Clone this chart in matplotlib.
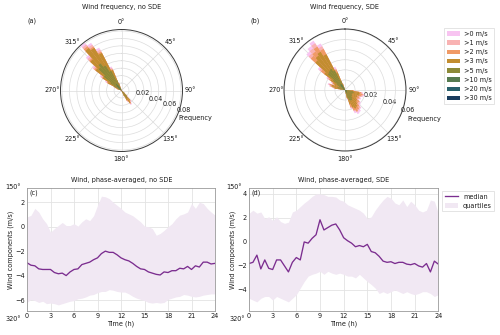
import numpy as np
import matplotlib
matplotlib.use('Agg')
import matplotlib.pyplot as plt
from matplotlib.patches import Patch
from matplotlib.lines import Line2D

plt.rcParams['font.family'] = ['DejaVu Sans']
FS = 9.4
TXT = '#1a1a1a'

# ---------------- wind-rose data ----------------
speed_labels = ['>0 m/s', '>1 m/s', '>2 m/s', '>3 m/s', '>5 m/s', '>10 m/s', '>20 m/s', '>30 m/s']
speed_colors = ['#f8c4f1', '#f9b3b3', '#f09a66', '#c28d30', '#8c8a38', '#567b50', '#28606a', '#1a3d5e']

dirs_a = [130, 135, 140, 145, 150, 155, 160, 290, 295, 300, 305, 310, 315, 320, 325, 330, 335, 340, 345]
freq_a_gt0 = [0.006, 0.012, 0.020, 0.023, 0.018, 0.010, 0.004, 0.008, 0.012, 0.025, 0.035, 0.050, 0.065, 0.081, 0.076, 0.065, 0.035, 0.012, 0.004]
freq_a_gt1 = [0.005, 0.011, 0.019, 0.022, 0.017, 0.009, 0.003, 0.007, 0.011, 0.023, 0.033, 0.048, 0.062, 0.078, 0.073, 0.062, 0.033, 0.011, 0.003]
freq_a_gt2 = [0.005, 0.010, 0.018, 0.021, 0.016, 0.008, 0.003, 0.006, 0.010, 0.022, 0.031, 0.046, 0.059, 0.075, 0.070, 0.059, 0.031, 0.010, 0.003]
freq_a_gt3 = [0.005, 0.010, 0.017, 0.020, 0.015, 0.008, 0.003, 0.006, 0.010, 0.021, 0.030, 0.044, 0.057, 0.072, 0.068, 0.057, 0.030, 0.010, 0.003]
freq_a_gt5 = [0.002, 0.006, 0.011, 0.013, 0.009, 0.004, 0.001, 0.002, 0.005, 0.012, 0.018, 0.030, 0.042, 0.046, 0.040, 0.030, 0.015, 0.004, 0.001]
freq_a_gt10 = [0.000, 0.001, 0.002, 0.003, 0.002, 0.001, 0.000, 0.000, 0.001, 0.002, 0.004, 0.006, 0.009, 0.011, 0.009, 0.006, 0.003, 0.001, 0.000]

dirs_b = [95, 100, 105, 110, 115, 120, 125, 130, 135, 140, 145, 150, 155, 160, 165,
          280, 285, 290, 295, 300, 305, 310, 315, 320, 325, 330, 335, 340]
freq_b_gt0 = [0.010, 0.018, 0.020, 0.019, 0.017, 0.018, 0.017, 0.020, 0.021, 0.024, 0.026, 0.027, 0.025, 0.020, 0.010,
              0.012, 0.016, 0.018, 0.014, 0.016, 0.022, 0.034, 0.052, 0.055, 0.058, 0.052, 0.025, 0.008]
freq_b_gt1 = [0.009, 0.017, 0.019, 0.018, 0.016, 0.017, 0.016, 0.019, 0.020, 0.023, 0.024, 0.025, 0.023, 0.019, 0.009,
              0.011, 0.015, 0.017, 0.013, 0.015, 0.021, 0.032, 0.049, 0.052, 0.055, 0.049, 0.023, 0.007]
freq_b_gt2 = [0.009, 0.016, 0.018, 0.017, 0.015, 0.016, 0.015, 0.018, 0.018, 0.021, 0.023, 0.024, 0.022, 0.018, 0.009,
              0.011, 0.014, 0.016, 0.012, 0.014, 0.019, 0.030, 0.046, 0.048, 0.051, 0.046, 0.022, 0.007]
freq_b_gt3 = [0.008, 0.014, 0.015, 0.015, 0.013, 0.014, 0.013, 0.015, 0.016, 0.018, 0.020, 0.021, 0.019, 0.015, 0.008,
              0.010, 0.013, 0.014, 0.011, 0.013, 0.017, 0.026, 0.040, 0.043, 0.045, 0.040, 0.019, 0.006]
freq_b_gt5 = [0.004, 0.008, 0.009, 0.009, 0.008, 0.008, 0.008, 0.009, 0.009, 0.011, 0.012, 0.012, 0.011, 0.009, 0.004,
              0.005, 0.007, 0.008, 0.006, 0.007, 0.010, 0.015, 0.023, 0.024, 0.025, 0.022, 0.010, 0.003]
freq_b_gt10 = [0.001, 0.002, 0.002, 0.002, 0.002, 0.002, 0.002, 0.002, 0.002, 0.003, 0.003, 0.003, 0.003, 0.002, 0.001,
               0.001, 0.002, 0.002, 0.001, 0.002, 0.002, 0.003, 0.006, 0.007, 0.007, 0.006, 0.003, 0.001]

# ---------------- phase-averaged wind data ----------------
hours = [0, 0.5, 1, 1.5, 2, 2.5, 3, 3.5, 4, 4.5, 5, 5.5, 6, 6.5, 7, 7.5, 8, 8.5, 9, 9.5, 10, 10.5, 11, 11.5,
         12, 12.5, 13, 13.5, 14, 14.5, 15, 15.5, 16, 16.5, 17, 17.5, 18, 18.5, 19, 19.5, 20, 20.5, 21, 21.5,
         22, 22.5, 23, 23.5, 24]
median_c = [-2.95, -3.15, -3.2, -3.45, -3.5, -3.5, -3.5, -3.75, -3.85, -3.8, -4.0, -3.7, -3.5, -3.45, -3.1, -3.0,
            -2.9, -2.7, -2.55, -2.2, -2.0, -2.1, -2.1, -2.3, -2.55, -2.7, -2.8, -3.0, -3.25, -3.45, -3.5, -3.7,
            -3.8, -3.9, -3.95, -3.7, -3.75, -3.6, -3.6, -3.4, -3.45, -3.25, -3.5, -3.2, -3.3, -2.9, -2.9, -3.05, -3.0]
upper_c = [0.8, 0.93, 1.5, 1.2, 0.65, 0.25, -0.45, -0.15, 0.1, 0.35, 0.1, 0.1, 0.25, 0.05, 0.4, 0.65,
           0.5, 0.9, 1.75, 2.5, 2.45, 2.3, 2.0, 1.75, 1.5, 1.2, 1.05, 0.9, 0.65, 0.4, 0.05, 0.0,
           -0.15, -0.7, -0.55, -0.3, 0.0, 0.25, 0.65, 0.95, 1.05, 1.2, 1.9, 1.5, 2.0, 1.9, 1.5, 1.2, 0.95]
lower_c = [-6.2, -5.95, -6.05, -6.2, -6.1, -6.3, -6.25, -6.3, -6.4, -6.3, -6.2, -6.1, -6.05, -5.9, -5.85, -5.75,
           -5.6, -5.55, -5.4, -5.3, -5.3, -5.15, -5.2, -5.3, -5.35, -5.35, -5.5, -5.7, -5.85, -5.95, -6.05, -6.2,
           -6.25, -6.2, -6.25, -6.2, -5.95, -5.85, -5.75, -5.7, -5.55, -5.6, -5.7, -5.75, -5.7, -5.6, -5.55, -5.5, -5.5]
median_d = [-1.8, -1.7, -1.1, -2.25, -1.5, -2.2, -2.3, -1.5, -1.5, -2.0, -2.5, -1.7, -1.3, -1.5, 0.0, -0.1,
            0.3, 0.6, 1.85, 1.0, 1.2, 1.4, 1.5, 1.0, 0.35, 0.1, -0.1, -0.4, -0.3, -0.4, -0.2, -0.8,
            -0.9, -1.2, -1.6, -1.7, -1.65, -1.8, -1.7, -1.7, -1.85, -1.9, -1.8, -2.0, -2.1, -1.8, -2.5, -1.6, -1.85]
upper_d = [2.38, 2.65, 2.4, 2.5, 1.95, 2.1, 1.8, 2.1, 1.7, 1.55, 1.65, 2.5, 2.65, 2.95, 3.25, 3.5,
           3.8, 4.0, 4.0, 3.95, 3.8, 3.8, 3.75, 3.5, 3.4, 3.1, 2.95, 2.8, 2.65, 2.4, 1.95, 2.1,
           2.65, 3.1, 3.5, 3.8, 3.65, 3.25, 3.1, 3.5, 2.95, 3.4, 3.1, 2.65, 2.5, 2.65, 3.5, 3.4, 2.4]
lower_d = [-4.7, -4.85, -5.0, -4.7, -4.55, -4.55, -4.85, -4.55, -4.7, -4.85, -5.0, -4.7, -4.4, -3.85, -3.3, -2.85,
           -2.7, -2.6, -2.45, -2.7, -2.45, -2.6, -2.7, -2.6, -2.7, -2.85, -2.85, -3.0, -2.7, -3.0, -3.3, -3.55,
           -3.85, -4.3, -4.15, -4.3, -4.15, -4.0, -4.15, -4.3, -4.15, -4.3, -4.4, -4.3, -4.15, -4.15, -4.3, -4.55, -4.4]

FILL = '#f1e8f3'
LINE = '#7b2d8f'

W, H = 500, 335
fig = plt.figure(figsize=(10, 6.7), dpi=50)


def fx(px):
    return px / W


def fy(py):
    return 1 - py / H


def rose(rect, dirs, freqs, rmax, rticks, title, letter, title_xy, letter_xy, freq_xy):
    ax = fig.add_axes(rect, projection='polar')
    ax.set_theta_zero_location('N')
    ax.set_theta_direction(-1)
    theta = np.deg2rad(dirs)
    width = np.deg2rad(5)
    for i, f in enumerate(freqs):
        ax.bar(theta, f, width=width, color=speed_colors[i], edgecolor='none', zorder=2 + i)
    ax.set_ylim(0, rmax)
    ax.set_yticks(rticks)
    ax.set_yticklabels(['%.2f' % r if round(r * 100) % 2 == 0 else '' for r in rticks], fontsize=FS, color=TXT)
    ax.set_rlabel_position(112)
    ax.set_xticks(np.deg2rad([0, 45, 90, 135, 180, 225, 270, 315]))
    ax.set_xticklabels(['0°', '45°', '90°', '135°', '180°', '225°', '270°', '315°'], fontsize=FS, color=TXT)
    ax.tick_params(axis='x', pad=1)
    ax.grid(color='#dcdcdc', linewidth=1.0)
    ax.spines['polar'].set_color('#3a3a3a')
    ax.spines['polar'].set_linewidth(1.4)
    ax.set_axisbelow(True)
    fig.text(fx(title_xy[0]), fy(title_xy[1]), title, ha='center', va='center', fontsize=FS, color=TXT)
    fig.text(fx(letter_xy[0]), fy(letter_xy[1]), letter, ha='center', va='center', fontsize=FS, color=TXT)
    fig.text(fx(freq_xy[0]), fy(freq_xy[1]), 'Frequency', ha='left', va='center', fontsize=FS, color=TXT)
    return ax


rose([fx(60.5), fy(151.5), 122 / W, 122 / H], dirs_a,
     [freq_a_gt0, freq_a_gt1, freq_a_gt2, freq_a_gt3, freq_a_gt5, freq_a_gt10],
     0.082, [0.01, 0.02, 0.03, 0.04, 0.05, 0.06, 0.07, 0.08],
     'Wind frequency, no SDE', '(a)', (121.5, 7.5), (32, 20.5), (178, 118))
rose([fx(284), fy(151), 122 / W, 122 / H], dirs_b,
     [freq_b_gt0, freq_b_gt1, freq_b_gt2, freq_b_gt3, freq_b_gt5, freq_b_gt10],
     0.0605, [0.01, 0.02, 0.03, 0.04, 0.05, 0.06],
     'Wind frequency, SDE', '(b)', (345, 7.5), (255, 21), (407, 119))

handles = [Patch(facecolor=c, edgecolor='none') for c in speed_colors]
leg = fig.legend(handles, speed_labels, loc='upper left', bbox_to_anchor=(fx(444), fy(28)),
                 fontsize=FS, frameon=True, labelspacing=0.5, handlelength=2.0, handletextpad=0.6,
                 borderpad=0.4, borderaxespad=0, fancybox=False)
leg.get_frame().set_edgecolor('#d0d0d0')
leg.get_frame().set_linewidth(1.0)
for t in leg.get_texts():
    t.set_color(TXT)


def series(rect, median, lower, upper, ylim, yticks, title, letter, title_x):
    ax = fig.add_axes(rect)
    ax.fill_between(hours, lower, upper, color=FILL, linewidth=0, label='quartiles')
    ax.plot(hours, median, color=LINE, linewidth=1.9, label='median')
    ax.set_xlim(0, 24)
    ax.set_ylim(*ylim)
    ax.set_xticks([0, 3, 6, 9, 12, 15, 18, 21, 24])
    ax.set_yticks(yticks)
    ax.tick_params(length=0, labelsize=FS, colors=TXT, pad=3)
    ax.grid(color='#e3e3e3', linewidth=1.2)
    ax.set_axisbelow(True)
    for s in ax.spines.values():
        s.set_color('#9a9a9a')
        s.set_linewidth(1.2)
    ax.set_xlabel('Time (h)', fontsize=FS, color=TXT, labelpad=2)
    ax.set_ylabel('Wind components (m/s)', fontsize=FS, color=TXT, labelpad=2)
    ax.text(0.012, 0.985, letter, transform=ax.transAxes, ha='left', va='top', fontsize=FS, color=TXT)
    fig.text(fx(title_x), fy(180), title, ha='center', va='center', fontsize=FS, color=TXT)
    return ax


ax_c = series([fx(27), fy(311), 188 / W, 123 / H], median_c, lower_c, upper_c, (-6.9, 3.17),
              [-6, -4, -2, 0, 2], 'Wind, phase-averaged, no SDE', '(c)', 121.5)
ax_d = series([fx(249), fy(311), 189.3 / W, 123 / H], median_d, lower_d, upper_d, (-5.76, 4.5),
              [-4, -2, 0, 2, 4], 'Wind, phase-averaged, SDE', '(d)', 343.5)

leg2 = fig.legend([Line2D([], [], color=LINE, linewidth=1.9), Patch(facecolor=FILL, edgecolor='none')],
                  ['median', 'quartiles'], loc='upper left', bbox_to_anchor=(fx(442), fy(191)),
                  fontsize=FS, frameon=True, labelspacing=0.45, handlelength=2.0, handletextpad=0.8,
                  borderpad=0.4, borderaxespad=0, fancybox=False)
leg2.get_frame().set_edgecolor('#d0d0d0')
leg2.get_frame().set_linewidth(1.0)
for t in leg2.get_texts():
    t.set_color(TXT)

# stray angle labels seen at the corners of the lower panels
for x0 in (5, 226):
    fig.text(fx(x0), fy(187), '150°', ha='left', va='center', fontsize=FS, color=TXT)
for x0 in (6, 230):
    fig.text(fx(x0), fy(319), '320°', ha='left', va='center', fontsize=FS, color=TXT)

fig.savefig('out.png', dpi=50)
